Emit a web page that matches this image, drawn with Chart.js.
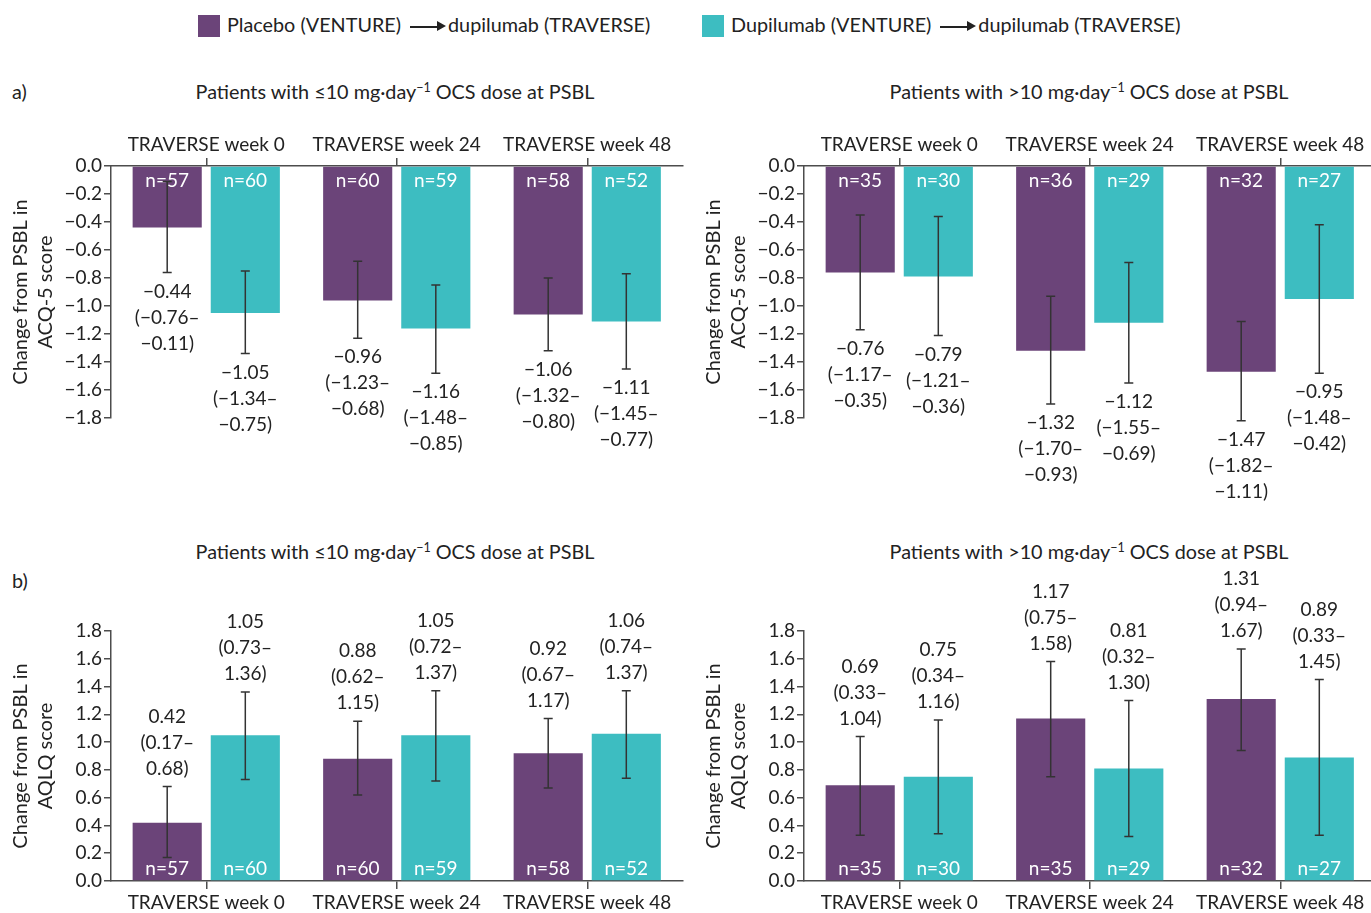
<!DOCTYPE html>
<html>
<head>
<meta charset="utf-8">
<script src="https://cdn.jsdelivr.net/npm/chart.js@4.4.1/dist/chart.umd.min.js"></script>
<style>
body{margin:0;background:#fff;font-family:Lato,sans-serif;color:#222;}
#page{position:relative;width:1371px;height:913px;overflow:hidden;}
.txt{position:absolute;font-size:19.8px;white-space:nowrap;line-height:22px;}
.mid{transform:translateX(-50%);}
canvas{position:absolute;}
.sw{display:inline-block;width:22px;height:22px;vertical-align:-5px;margin-right:7px;}
.arrow{display:inline-block;position:relative;width:28px;height:1.5px;background:#222;vertical-align:middle;margin:0 10px 0 9px;}
.arrow:after{content:'';position:absolute;right:-8px;top:-5px;border-left:9px solid #222;border-top:5.5px solid transparent;border-bottom:5.5px solid transparent;}
sup{font-size:12.5px;vertical-align:7px;line-height:0;}
</style>
</head>
<body>
<div id="page">
<div class="txt" style="left:198px;top:13px;font-size:19.8px"><span class="sw" style="background:#6b4479"></span>Placebo (VENTURE)<span class="arrow"></span>dupilumab (TRAVERSE)</div>
<div class="txt" style="left:702px;top:13px;font-size:19.8px"><span class="sw" style="background:#3dbdc1"></span>Dupilumab (VENTURE)<span class="arrow"></span>dupilumab (TRAVERSE)</div>

<div class="txt" style="left:12px;top:80px">a)</div>
<div class="txt mid" style="left:395px;top:80px">Patients with ≤10 mg·day<sup>−1</sup> OCS dose at PSBL</div>
<div class="txt mid" style="left:1089px;top:80px">Patients with &gt;10 mg·day<sup>−1</sup> OCS dose at PSBL</div>

<div class="txt" style="left:12px;top:569px">b)</div>
<div class="txt mid" style="left:395px;top:540px">Patients with ≤10 mg·day<sup>−1</sup> OCS dose at PSBL</div>
<div class="txt mid" style="left:1089px;top:540px">Patients with &gt;10 mg·day<sup>−1</sup> OCS dose at PSBL</div>

<canvas id="acqLow" width="690" height="390" style="left:0;top:120px"></canvas>
<canvas id="acqHigh" width="683" height="390" style="left:693px;top:120px"></canvas>
<canvas id="aqlqLow" width="690" height="354" style="left:0;top:560px"></canvas>
<canvas id="aqlqHigh" width="683" height="354" style="left:693px;top:560px"></canvas>
</div>
<script>
var weeks = ['TRAVERSE week 0', 'TRAVERSE week 24', 'TRAVERSE week 48'];

// ACQ-5, <=10 mg/day
var acqLowPlacebo = [-0.44, -0.96, -1.06];
var acqLowPlaceboCI = [[-0.76, -0.11], [-1.23, -0.68], [-1.32, -0.80]];
var acqLowPlaceboN = [57, 60, 58];
var acqLowDupi = [-1.05, -1.16, -1.11];
var acqLowDupiCI = [[-1.34, -0.75], [-1.48, -0.85], [-1.45, -0.77]];
var acqLowDupiN = [60, 59, 52];

// ACQ-5, >10 mg/day
var acqHighPlacebo = [-0.76, -1.32, -1.47];
var acqHighPlaceboCI = [[-1.17, -0.35], [-1.70, -0.93], [-1.82, -1.11]];
var acqHighPlaceboN = [35, 36, 32];
var acqHighDupi = [-0.79, -1.12, -0.95];
var acqHighDupiCI = [[-1.21, -0.36], [-1.55, -0.69], [-1.48, -0.42]];
var acqHighDupiN = [30, 29, 27];

// AQLQ, <=10 mg/day
var aqlqLowPlacebo = [0.42, 0.88, 0.92];
var aqlqLowPlaceboCI = [[0.17, 0.68], [0.62, 1.15], [0.67, 1.17]];
var aqlqLowPlaceboN = [57, 60, 58];
var aqlqLowDupi = [1.05, 1.05, 1.06];
var aqlqLowDupiCI = [[0.73, 1.36], [0.72, 1.37], [0.74, 1.37]];
var aqlqLowDupiN = [60, 59, 52];

// AQLQ, >10 mg/day
var aqlqHighPlacebo = [0.69, 1.17, 1.31];
var aqlqHighPlaceboCI = [[0.33, 1.04], [0.75, 1.58], [0.94, 1.67]];
var aqlqHighPlaceboN = [35, 35, 32];
var aqlqHighDupi = [0.75, 0.81, 0.89];
var aqlqHighDupiCI = [[0.34, 1.16], [0.32, 1.30], [0.33, 1.45]];
var aqlqHighDupiN = [30, 29, 27];

var purple = '#6b4479';
var teal = '#3dbdc1';
var ink = '#222';
var axisGrey = '#4d4d4d';
var fontFamily = 'Lato, sans-serif';

function fmt(v) {
	return v.toFixed(2).replace('-', '\u2212');
}

var errorBars = {
	id: 'errorBars',
	afterDatasetsDraw: function(chart, args, opts) {
		var ctx = chart.ctx, y = chart.scales.y;
		var base = y.getPixelForValue(0);
		ctx.save();
		ctx.font = '19px ' + fontFamily;
		ctx.textAlign = 'center';
		ctx.textBaseline = 'middle';
		chart.data.datasets.forEach(function(ds, i) {
			chart.getDatasetMeta(i).data.forEach(function(bar, j) {
				ctx.fillStyle = '#fff';
				ctx.fillText('n=' + ds.n[j], bar.x, opts.below ? base + 15 : base - 12);

				var lo = y.getPixelForValue(ds.ci[j][0]);
				var hi = y.getPixelForValue(ds.ci[j][1]);
				ctx.strokeStyle = '#333';
				ctx.lineWidth = 1.5;
				ctx.beginPath();
				ctx.moveTo(bar.x, lo); ctx.lineTo(bar.x, hi);
				ctx.moveTo(bar.x - 4.5, lo); ctx.lineTo(bar.x + 4.5, lo);
				ctx.moveTo(bar.x - 4.5, hi); ctx.lineTo(bar.x + 4.5, hi);
				ctx.stroke();

				var lines = [fmt(ds.data[j]), '(' + fmt(ds.ci[j][0]) + '\u2013', fmt(ds.ci[j][1]) + ')'];
				ctx.fillStyle = ink;
				lines.forEach(function(t, k) {
					var ty = opts.below ? lo + 19 + k * 26 : hi - 18 - (2 - k) * 26;
					ctx.fillText(t, bar.x, ty);
				});
			});
		});
		ctx.restore();
	}
};

function panel(id, placebo, placeboCI, placeboN, dupi, dupiCI, dupiN, o) {
	new Chart(document.getElementById(id), {
		type: 'bar',
		data: {
			labels: weeks,
			datasets: [
				{ label: 'Placebo', data: placebo, ci: placeboCI, n: placeboN, backgroundColor: purple, categoryPercentage: 0.82, barPercentage: 0.885 },
				{ label: 'Dupilumab', data: dupi, ci: dupiCI, n: dupiN, backgroundColor: teal, categoryPercentage: 0.82, barPercentage: 0.885 }
			]
		},
		plugins: [errorBars],
		options: {
			responsive: false,
			animation: false,
			devicePixelRatio: 1,
			layout: { padding: o.padding },
			plugins: {
				legend: { display: false },
				tooltip: { enabled: false },
				errorBars: { below: o.below }
			},
			scales: {
				x: {
					position: o.xPos,
					grid: { drawOnChartArea: false, offset: false, tickLength: 8, color: axisGrey, lineWidth: 1.5 },
					border: { color: axisGrey, width: 1.5 },
					ticks: { color: ink, font: { size: 19, family: fontFamily }, padding: 2, maxRotation: 0 },
					afterFit: function(s) { s.height = o.xHeight; }
				},
				y: {
					min: o.min,
					max: o.max,
					grid: { drawOnChartArea: false, tickLength: 7, color: axisGrey, lineWidth: 1.5 },
					border: { color: axisGrey, width: 1.5 },
					ticks: {
						stepSize: 0.2,
						color: ink,
						font: { size: 19, family: fontFamily },
						padding: 2,
						callback: function(v) { return Math.abs(v) < 1e-9 ? '0.0' : v.toFixed(1).replace('-', '\u2212'); }
					},
					title: { display: true, text: o.yTitle, color: ink, font: { size: 20, family: fontFamily, lineHeight: 1.25 }, padding: { top: 8, bottom: 0 } },
					afterFit: function(s) { s.width = 111; }
				}
			}
		}
	});
}

var acqTitle = ['Change from PSBL in', 'ACQ-5 score'];
var aqlqTitle = ['Change from PSBL in', 'AQLQ score'];

panel('acqLow', acqLowPlacebo, acqLowPlaceboCI, acqLowPlaceboN, acqLowDupi, acqLowDupiCI, acqLowDupiN,
	{ min: -1.8, max: 0, xPos: 'top', xHeight: 35, below: true, yTitle: acqTitle, padding: { top: 11, bottom: 92, left: 0, right: 7.5 } });
panel('acqHigh', acqHighPlacebo, acqHighPlaceboCI, acqHighPlaceboN, acqHighDupi, acqHighDupiCI, acqHighDupiN,
	{ min: -1.8, max: 0, xPos: 'top', xHeight: 35, below: true, yTitle: acqTitle, padding: { top: 11, bottom: 92, left: 0, right: 0.5 } });
panel('aqlqLow', aqlqLowPlacebo, aqlqLowPlaceboCI, aqlqLowPlaceboN, aqlqLowDupi, aqlqLowDupiCI, aqlqLowDupiN,
	{ min: 0, max: 1.8, xPos: 'bottom', xHeight: 33, below: false, yTitle: aqlqTitle, padding: { top: 71, bottom: 0, left: 0, right: 7.5 } });
panel('aqlqHigh', aqlqHighPlacebo, aqlqHighPlaceboCI, aqlqHighPlaceboN, aqlqHighDupi, aqlqHighDupiCI, aqlqHighDupiN,
	{ min: 0, max: 1.8, xPos: 'bottom', xHeight: 33, below: false, yTitle: aqlqTitle, padding: { top: 71, bottom: 0, left: 0, right: 0.5 } });
</script>
</body>
</html>
